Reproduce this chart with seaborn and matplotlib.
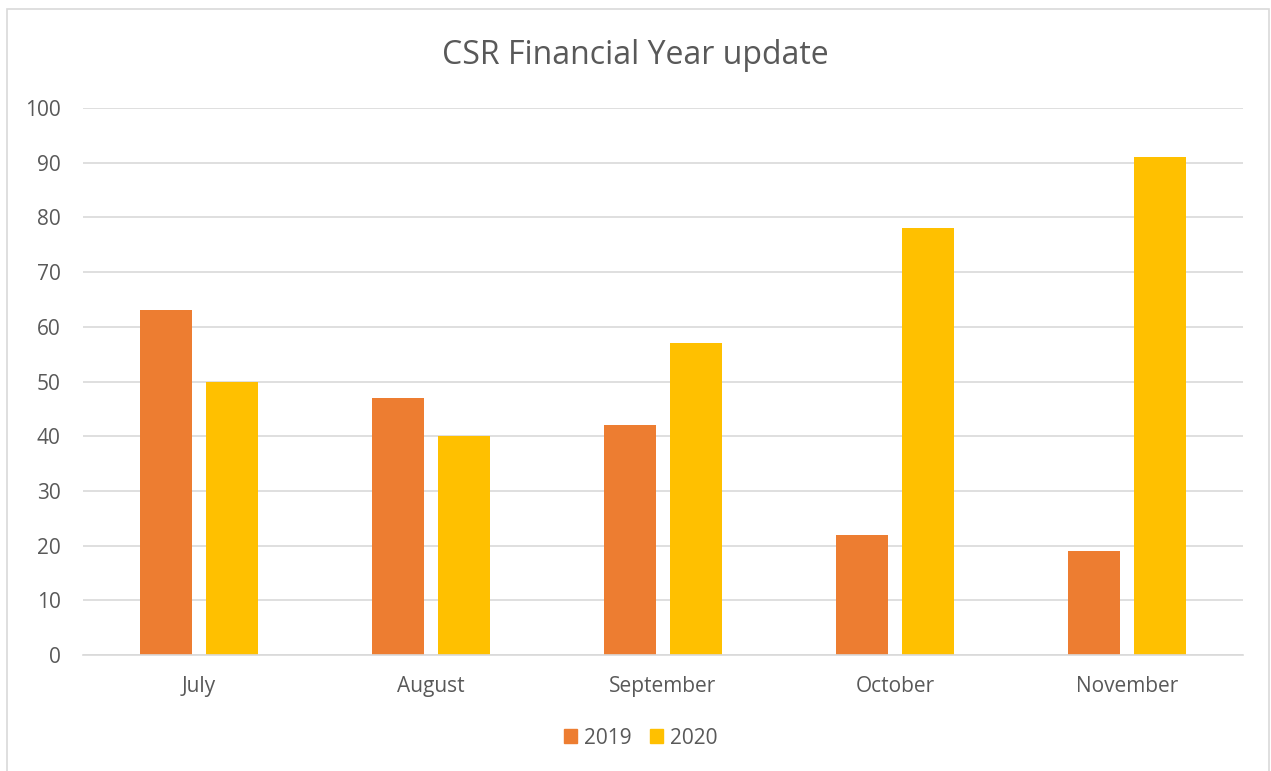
import matplotlib
matplotlib.use("Agg")
import matplotlib.pyplot as plt
import matplotlib.patches as mpatches
import seaborn as sns
import pandas as pd

months = ["July", "August", "September", "October", "November"]
vals_2019 = [63, 47, 42, 22, 19]
vals_2020 = [50, 40, 57, 78, 91]
years = ["2019", "2020"]
colors = ["#ED7D31", "#FFC000"]

df = pd.DataFrame({
    "Month": months * 2,
    "Value": vals_2019 + vals_2020,
    "Year": [years[0]] * len(months) + [years[1]] * len(months),
})

sns.set_style("white")
plt.rcParams["font.family"] = ["Open Sans", "DejaVu Sans"]
grey = "#595959"

fig = plt.figure(figsize=(12.71, 7.71), dpi=100)
ax = fig.add_axes([83 / 1271, 1 - 655 / 771, (1243 - 83) / 1271, (655 - 108) / 771])

sns.barplot(data=df, x="Month", y="Value", hue="Year", order=months,
            hue_order=years, palette=colors, width=0.57, gap=0.21,
            saturation=1, linewidth=0, ax=ax, legend=False)

ax.set_ylim(0, 100)
ax.set_yticks(range(0, 101, 10))
ax.set_xlim(-0.5, len(months) - 0.5)
ax.yaxis.grid(True, color="#D9D9D9", linewidth=1.2)
ax.set_axisbelow(True)
for side in ["left", "right", "top"]:
    ax.spines[side].set_visible(False)
ax.spines["bottom"].set_color("#D9D9D9")
ax.spines["bottom"].set_linewidth(1.2)
ax.tick_params(axis="both", length=0, labelsize=15, labelcolor=grey)
ax.tick_params(axis="y", pad=16)
ax.tick_params(axis="x", pad=15)
ax.set_xlabel("")
ax.set_ylabel("")

fig.text(0.5, 1 - 55 / 771, "CSR Financial Year update", ha="center", va="center",
         fontsize=23, color=grey)

handles = [mpatches.Patch(color=c, label=y) for c, y in zip(colors, years)]
fig.legend(handles=handles, loc="center", bbox_to_anchor=(0.5 + 5 / 1271, 1 - 738 / 771),
           ncol=2, frameon=False, fontsize=15, labelcolor=grey,
           handlelength=0.65, handleheight=0.65, handletextpad=0.3, columnspacing=0.9)

# chart border
fig.patches.append(mpatches.Rectangle((7 / 1271, -0.01), 1262 / 1271, 1 - 9 / 771 + 0.01,
                                      transform=fig.transFigure, fill=False,
                                      edgecolor="#D9D9D9", linewidth=1.2))

fig.savefig("out.png", dpi=100)
